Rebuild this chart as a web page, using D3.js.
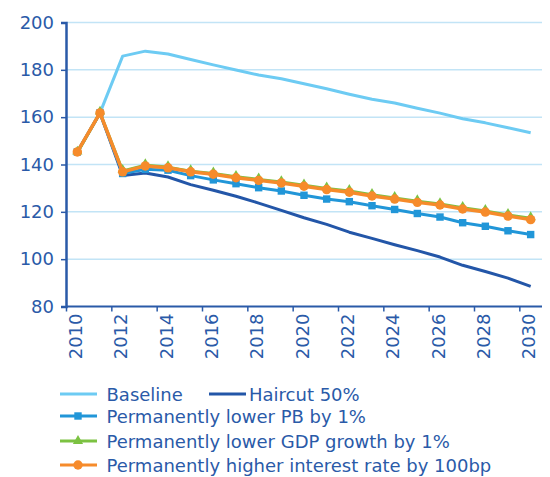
<!DOCTYPE html>
<html>
<head>
<meta charset="utf-8">
<script src="https://cdn.jsdelivr.net/npm/d3@7"></script>
<style>
  html, body { margin: 0; padding: 0; background: #fff; }
  svg { display: block; }
  text { font-family: "DejaVu Sans", sans-serif; fill: #2a5aa8; }
</style>
</head>
<body>
<svg id="chart" width="550" height="477"></svg>
<script>
const years = d3.range(2010, 2031);
const yTicks = [80, 100, 120, 140, 160, 180, 200];
const xTickYears = [2010, 2012, 2014, 2016, 2018, 2020, 2022, 2024, 2026, 2028, 2030];

const baseline = [145.3, 161.8, 185.8, 187.9, 186.7, 184.4, 182.1, 179.9, 177.8, 176.2, 174.1, 172.0, 169.7, 167.6, 166.0, 163.8, 161.7, 159.3, 157.6, 155.5, 153.4];
const haircut  = [145.3, 161.8, 135.4, 136.4, 134.7, 131.5, 129.1, 126.6, 123.7, 120.6, 117.5, 114.7, 111.4, 108.8, 106.1, 103.6, 100.9, 97.4, 94.8, 92.0, 88.5];
const lowerPB  = [145.3, 161.8, 136.2, 138.0, 137.6, 135.3, 133.5, 131.9, 130.2, 128.8, 127.0, 125.4, 124.3, 122.6, 121.0, 119.3, 117.8, 115.4, 113.9, 112.0, 110.4];
const lowerGDP = [145.0, 161.9, 137.3, 139.7, 138.9, 137.2, 136.2, 134.8, 133.7, 132.6, 131.2, 129.9, 128.8, 127.2, 125.9, 124.5, 123.3, 121.7, 120.4, 118.7, 117.3];
const higherIR = [145.3, 161.8, 136.9, 139.4, 138.6, 136.9, 135.9, 134.4, 133.3, 132.2, 130.8, 129.4, 128.3, 126.7, 125.4, 124.0, 122.9, 121.2, 119.9, 118.2, 116.7];

const seriesNames = ["Baseline", "Haircut 50%", "Permanently lower PB by 1%", "Permanently lower GDP growth by 1%", "Permanently higher interest rate by 100bp"];
const seriesColors = ["#6dcbf3", "#2356a8", "#2196d8", "#7cc242", "#f68b2b"];
const seriesMarkers = [null, null, "square", "triangle", "circle"];
const seriesData = [baseline, haircut, lowerPB, lowerGDP, higherIR];

const svg = d3.select("#chart");
const pLeft = 66, pRight = 542, pTop = 22.5, pBottom = 306.5;

const x = d3.scaleBand().domain(years).range([pLeft, pRight]).padding(0);
const xEdge = d3.scaleLinear().domain([2010, 2031]).range([pLeft, pRight]);
const y = d3.scaleLinear().domain([80, 200]).range([pBottom, pTop]);
const cx = yr => x(yr) + x.bandwidth() / 2;

// gridlines
svg.append("g")
  .selectAll("line")
  .data(yTicks.filter(v => v > 80))
  .join("line")
  .attr("x1", pLeft).attr("x2", pRight)
  .attr("y1", d => y(d)).attr("y2", d => y(d))
  .attr("stroke", "#c2e4f6").attr("stroke-width", 1.5);

// y axis
const yAxis = svg.append("g").attr("transform", `translate(${pLeft},0)`)
  .call(d3.axisLeft(y).tickValues(yTicks).tickSize(5).tickPadding(7));
yAxis.select(".domain").attr("stroke", "#2a5aa8").attr("stroke-width", 2.5);
yAxis.selectAll(".tick line").attr("stroke", "#2a5aa8").attr("stroke-width", 1.5);
yAxis.selectAll(".tick text").attr("font-size", 18).attr("fill", "#2a5aa8")
  .attr("font-family", "DejaVu Sans");

// x axis (ticks at category boundaries)
const xAxis = svg.append("g").attr("transform", `translate(0,${pBottom})`)
  .call(d3.axisBottom(xEdge).tickValues(xTickYears).tickSize(5).tickFormat(""));
xAxis.select(".domain").attr("stroke", "#2a5aa8").attr("stroke-width", 2).attr("d", `M${pLeft},0H${pRight}`);
xAxis.selectAll(".tick line").attr("stroke", "#2a5aa8").attr("stroke-width", 1.5);

svg.append("g")
  .selectAll("text")
  .data(xTickYears)
  .join("text")
  .attr("transform", d => `translate(${cx(d) - 1.5},${pBottom + 7}) rotate(-90)`)
  .attr("text-anchor", "end")
  .attr("dy", "0.35em")
  .attr("font-size", 18)
  .text(d => d);

// lines
const line = d3.line().x((d, i) => cx(years[i])).y(d => y(d));
const symbolFor = m => m === "square" ? d3.symbolSquare : m === "triangle" ? d3.symbolTriangle : d3.symbolCircle;
const symbolSize = m => m === "square" ? 55 : m === "triangle" ? 45 : 70;

seriesData.forEach((data, si) => {
  const g = svg.append("g");
  g.append("path").datum(data)
    .attr("d", line)
    .attr("fill", "none")
    .attr("stroke", seriesColors[si])
    .attr("stroke-width", si === 4 ? 3.5 : 3)
    .attr("stroke-linejoin", "round");
  if (seriesMarkers[si]) {
    const sym = d3.symbol().type(symbolFor(seriesMarkers[si])).size(symbolSize(seriesMarkers[si]));
    g.selectAll("path.m").data(data).join("path")
      .attr("class", "m")
      .attr("transform", (d, i) => `translate(${cx(years[i])},${y(d) + (seriesMarkers[si] === "triangle" ? -1 : 0)})`)
      .attr("d", sym)
      .attr("fill", seriesColors[si]);
  }
});

// legend
const legendItems = [
  { idx: 0, x: 60, y: 394 },
  { idx: 1, x: 209, y: 394 },
  { idx: 2, x: 60, y: 416 },
  { idx: 3, x: 60, y: 441 },
  { idx: 4, x: 60, y: 465 }
];
const lg = svg.append("g");
legendItems.forEach(it => {
  const si = it.idx;
  lg.append("line")
    .attr("x1", it.x).attr("x2", it.x + 37)
    .attr("y1", it.y).attr("y2", it.y)
    .attr("stroke", seriesColors[si]).attr("stroke-width", 3);
  if (seriesMarkers[si]) {
    lg.append("path")
      .attr("transform", `translate(${it.x + 18},${it.y})`)
      .attr("d", d3.symbol().type(symbolFor(seriesMarkers[si])).size(symbolSize(seriesMarkers[si]))())
      .attr("fill", seriesColors[si]);
  }
  lg.append("text")
    .attr("x", it.x + (si === 1 ? 40 : 46.5))
    .attr("y", it.y + 1)
    .attr("dy", "0.35em")
    .attr("font-size", 18)
    .text(seriesNames[si]);
});
</script>
</body>
</html>
